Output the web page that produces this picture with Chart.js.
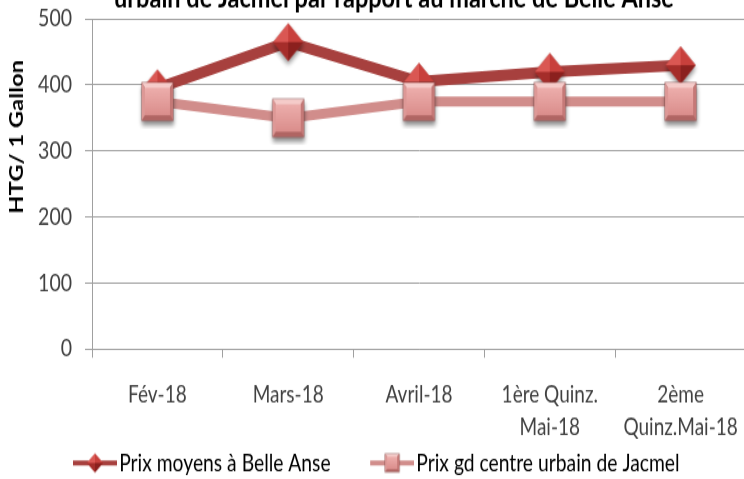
<!DOCTYPE html>
<html>
<head>
<meta charset="utf-8">
<script src="https://cdn.jsdelivr.net/npm/chart.js@4/dist/chart.umd.min.js"></script>
<style>
  html, body { margin: 0; padding: 0; background: #fff; overflow: hidden; width: 744px; height: 479px; }
  #c { position: absolute; left: 0; top: 0; transform-origin: 0 0; transform: scaleY(1.25); }
</style>
</head>
<body>
<canvas id="c" width="746" height="390"></canvas>
<script>
// ---- data ----
const categories = ['Fév-18', 'Mars-18', 'Avril-18', ['1ère Quinz.', 'Mai-18'], ['2ème', 'Quinz.Mai-18']];
const belleAnse = [395, 465, 405, 420, 430];
const jacmel = [375, 350, 375, 375, 375];
const seriesNames = ['Prix moyens à Belle Anse', 'Prix gd centre urbain de Jacmel'];
const titleLine = 'urbain de Jacmel par rapport au marché de Belle Anse';
const yTitle = 'HTG/ 1 Gallon';
const yTicks = [0, 100, 200, 300, 400, 500];

// ---- styles ----
const C_BA = '#A7403E';
const C_JA = '#D18D8B';
const GRID = '#A0A0A0';
const FONT = 'Lato';

function poly(g, pts, fill) {
  g.beginPath(); g.moveTo(pts[0][0], pts[0][1]);
  for (let i = 1; i < pts.length; i++) g.lineTo(pts[i][0], pts[i][1]);
  g.closePath(); g.fillStyle = fill; g.fill();
}
function drawDiamond(g, cx, cy, w, h, shadow) {
  const T = [cx, cy - h / 2], R = [cx + w / 2, cy], B = [cx, cy + h / 2], L = [cx - w / 2, cy], C = [cx, cy];
  g.save();
  if (shadow) { g.shadowColor = 'rgba(0,0,0,0.45)'; g.shadowBlur = 4; g.shadowOffsetY = 3; }
  poly(g, [T, R, B, L], '#B23431');
  g.restore();
  poly(g, [L, T, C], '#DA5753');
  poly(g, [T, R, C], '#C8403C');
  poly(g, [L, C, B], '#A52D2A');
  poly(g, [C, R, B], '#8B201E');
}
function drawSquare(g, cx, cy, w, h, shadow, bev) {
  const x0 = cx - w / 2, y0 = cy - h / 2, x1 = cx + w / 2, y1 = cy + h / 2;
  const bt = bev[0], bs = bev[1], bb = bev[2];
  const ix0 = x0 + bs, ix1 = x1 - bs, iy0 = y0 + bt, iy1 = y1 - bb;
  g.save();
  if (shadow) { g.shadowColor = 'rgba(0,0,0,0.45)'; g.shadowBlur = 4; g.shadowOffsetY = 3; }
  g.fillStyle = '#8E5553'; g.fillRect(x0 - 0.5, y0 - 0.5, w + 1, h + 1);
  g.restore();
  poly(g, [[x0, y0], [x1, y0], [ix1, iy0], [ix0, iy0]], '#F5CBC9');
  poly(g, [[x0, y1], [x1, y1], [ix1, iy1], [ix0, iy1]], '#B06563');
  poly(g, [[x0, y0], [ix0, iy0], [ix0, iy1], [x0, y1]], '#DD9896');
  poly(g, [[x1, y0], [ix1, iy0], [ix1, iy1], [x1, y1]], '#C57977');
  const gr = g.createLinearGradient(0, iy0, 0, iy1);
  gr.addColorStop(0, '#EDAEAC'); gr.addColorStop(1, '#DB8E8C');
  g.fillStyle = gr; g.fillRect(ix0, iy0, ix1 - ix0, iy1 - iy0);
}
function makeCanvas(w, h) { const c = document.createElement('canvas'); c.width = w; c.height = h; return c; }

const diamondPt = makeCanvas(42, 44);
drawDiamond(diamondPt.getContext('2d'), 21, 22, 30, 30, true);
const squarePt = makeCanvas(43, 44);
drawSquare(squarePt.getContext('2d'), 21.5, 22, 31, 30, true, [4, 3, 4]);

// legend symbols: 38px blank on the left, then a 44px line with a small marker
const legendBA = makeCanvas(82, 20);
(function () {
  const g = legendBA.getContext('2d');
  g.fillStyle = C_BA; g.fillRect(38, 8, 44, 4);
  drawDiamond(g, 60, 10, 16, 15, false);
})();
const legendJA = makeCanvas(82, 20);
(function () {
  const g = legendJA.getContext('2d');
  g.fillStyle = C_JA; g.fillRect(38, 8, 44, 4);
  drawSquare(g, 60, 10, 14, 14, false, [2, 2, 2]);
})();
const legendImgs = [legendBA, legendJA];

const textPlugin = {
  id: 'texts',
  afterDraw(chart) {
    const g = chart.ctx;
    g.save();
    g.fillStyle = '#000';
    g.textAlign = 'center';
    g.textBaseline = 'alphabetic';
    g.font = 'bold 23.5px ' + FONT;
    g.fillText(titleLine, 394, 5.6);
    g.translate(17, 109.4);
    g.rotate(-Math.PI / 2);
    g.textBaseline = 'middle';
    g.font = 'bold 19px ' + FONT;
    g.fillText(yTitle, 0, 0);
    g.restore();
  }
};

new Chart(document.getElementById('c'), {
  type: 'line',
  data: {
    labels: categories,
    datasets: [
      {
        label: seriesNames[0], data: belleAnse, order: 2,
        borderColor: C_BA, backgroundColor: C_BA, borderWidth: 9,
        pointStyle: diamondPt, pointRadius: 15, pointBorderWidth: 0, tension: 0, fill: false,
        borderJoinStyle: 'round', borderCapStyle: 'round'
      },
      {
        label: seriesNames[1], data: jacmel, order: 1,
        borderColor: C_JA, backgroundColor: C_JA, borderWidth: 8,
        pointStyle: squarePt, pointRadius: 15, pointBorderWidth: 0, tension: 0, fill: false,
        borderJoinStyle: 'round', borderCapStyle: 'round'
      }
    ]
  },
  options: {
    responsive: false,
    animation: false,
    devicePixelRatio: 1,
    layout: { autoPadding: false, padding: { top: 15.2, left: 33.5, right: 0, bottom: 0 } },
    plugins: {
      tooltip: { enabled: false },
      title: { display: false },
      legend: {
        position: 'bottom',
        align: 'start',
        labels: {
          usePointStyle: true,
          pointStyleWidth: 67,
          padding: 9,
          color: '#262626',
          font: { family: FONT, size: 19.3 },
          sort: (a, b) => a.datasetIndex - b.datasetIndex,
          generateLabels(chart) {
            return chart.data.datasets.map((ds, i) => ({
              text: ds.label, datasetIndex: i, pointStyle: legendImgs[i],
              fillStyle: ds.borderColor, strokeStyle: ds.borderColor, lineWidth: 0, hidden: false
            }));
          }
        }
      }
    },
    scales: {
      x: {
        offset: true,
        grid: { offset: true, drawOnChartArea: false, drawTicks: true, tickLength: 7, color: GRID },
        border: { color: GRID },
        ticks: { autoSkip: false, maxRotation: 0, padding: 16, color: '#404040', font: { family: FONT, size: 19, lineHeight: 1.4 } },
        afterFit(s) { s.height = 72.5; s.paddingLeft = 0; s.paddingRight = 0; }
      },
      y: {
        min: 0, max: 500,
        afterBuildTicks(s) { s.ticks = yTicks.map(v => ({ value: v })); },
        grid: { color: GRID, tickLength: 7 },
        border: { color: GRID },
        ticks: { padding: 13, color: '#404040', font: { family: FONT, size: 19.5 } },
        afterFit(s) { s.width = 58.5; s.paddingTop = 0; s.paddingBottom = 0; }
      }
    }
  },
  plugins: [textPlugin]
});
</script>
</body>
</html>
